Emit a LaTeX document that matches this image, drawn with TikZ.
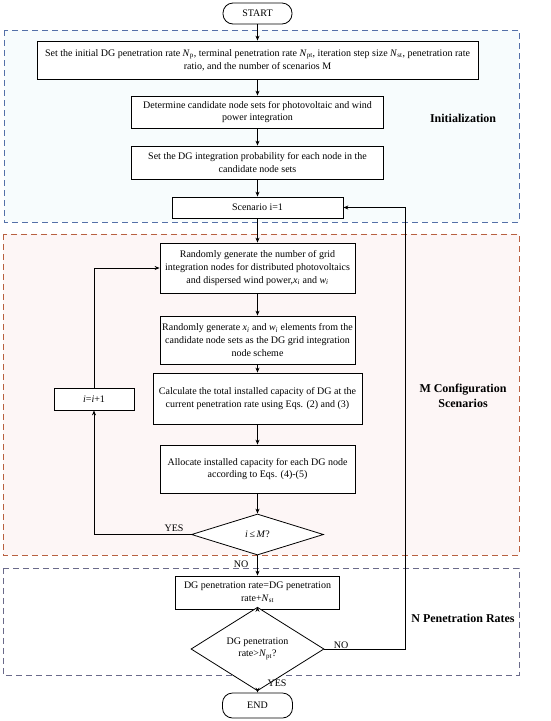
\documentclass[tikz,border=0pt]{standalone}
\usepackage{fontspec}
\setmainfont{Liberation Serif}
\usetikzlibrary{shapes.geometric,arrows.meta}
\definecolor{initblue}{RGB}{84,112,168}
\definecolor{initfill}{RGB}{247,252,253}
\definecolor{scenred}{RGB}{184,96,64}
\definecolor{scenfill}{RGB}{253,246,246}
\definecolor{pengray}{RGB}{106,106,138}
\tikzset{
  proc/.style={draw, line width=0.8pt, fill=white, align=center, inner sep=1pt,
    font=\fontsize{10}{12.7}\selectfont},
  term/.style={draw, line width=0.8pt, fill=white, rounded corners=10pt, inner sep=1pt,
    font=\fontsize{10}{12.7}\selectfont},
  dec/.style={draw, diamond, line width=0.8pt, fill=white, align=center, inner sep=0pt,
    font=\fontsize{10}{12}\selectfont},
  arr/.style={line width=0.8pt, -{Stealth[length=5pt,width=4pt]}},
  lbl/.style={font=\fontsize{10}{12}\selectfont, inner sep=0pt},
  sect/.style={font=\bfseries\fontsize{12}{14.5}\selectfont, align=center, inner sep=0pt},
  region/.style={dash pattern=on 6pt off 4pt, line width=0.8pt}
}
\begin{document}
\begin{tikzpicture}[x=1pt,y=-1pt]
\useasboundingbox (0,0) rectangle (550,721);
% regions
\draw[region, draw=initblue, fill=initfill] (4,30) rectangle (519,222);
\draw[region, draw=scenred, fill=scenfill] (3,234) rectangle (519,555);
\draw[region, draw=pengray] (3,568) rectangle (519,675);
% section labels
\node[sect] (lab1) at (463,118) {Initialization};
\node[sect] (lab2) at (463,396) {M Configuration\\Scenarios};
\node[sect] (lab3) at (463,618) {N Penetration Rates};
% nodes
\node[term, minimum width=69pt, minimum height=21pt] (start) at (257.5,13.5) {START};
\node[proc, minimum width=441pt, minimum height=38pt] (b1) at (257.5,60)
  {Set the initial DG penetration rate \textit{N}\textsubscript{p}, terminal penetration rate \textit{N}\textsubscript{pt}, iteration step size \textit{N}\textsubscript{st}, penetration rate\\ratio, and the number of scenarios M};
\node[proc, minimum width=252pt, minimum height=32pt] (b2) at (257.5,112)
  {Determine candidate node sets for photovoltaic and wind\\power integration};
\node[proc, minimum width=252pt, minimum height=33pt] (b3) at (257.5,162.5)
  {Set the DG integration probability for each node in the\\candidate node sets};
\node[proc, minimum width=171pt, minimum height=21pt] (b4) at (257.5,207.5)
  {Scenario i=1};
\node[proc, minimum width=195pt, minimum height=50pt] (b5) at (257.5,268)
  {Randomly generate the number of grid\\integration nodes for distributed photovoltaics\\and dispersed wind power,\textit{x}\textsubscript{\textit{i}} and \textit{w}\textsubscript{\textit{i}}};
\node[proc, minimum width=195pt, minimum height=48pt] (b6) at (257.5,340)
  {Randomly generate \textit{x}\textsubscript{\textit{i}} and \textit{w}\textsubscript{\textit{i}} elements from the\\candidate node sets as the DG grid integration\\node scheme};
\node[proc, minimum width=209pt, minimum height=51pt] (b7) at (257.5,398.5)
  {Calculate the total installed capacity of DG at the\\current penetration rate using Eqs. (2) and (3)};
\node[proc, minimum width=195pt, minimum height=48pt] (b8) at (257.5,469)
  {Allocate installed capacity for each DG node\\according to Eqs. (4)-(5)};
\node[dec, minimum width=132pt, minimum height=41pt] (d1) at (257.5,534.5)
  {\textit{i}\,≤\,\textit{M}?};
\node[proc, minimum width=80pt, minimum height=22pt] (inc) at (94,399)
  {\textit{i}=\textit{i}+1};
\node[proc, minimum width=164pt, minimum height=33pt] (b9) at (257.5,592.5)
  {DG penetration rate=DG penetration\\rate+\textit{N}\textsubscript{st}};
\node[dec, minimum width=133pt, minimum height=46pt] (d2) at (257.5,649)
  {DG penetration\\rate>\textit{N}\textsubscript{pt}?};
\node[term, minimum width=70pt, minimum height=25pt] (end) at (257.5,705.5) {END};
\coordinate (rx) at (405,649);
% connectors
\draw[arr] (start.south) -- (start.south |- b1.north);
\draw[arr] (b1.south) -- (b1.south |- b2.north);
\draw[arr] (b2.south) -- (b2.south |- b3.north);
\draw[arr] (b3.south) -- (b3.south |- b4.north);
\draw[arr] (b4.south) -- (b4.south |- b5.north);
\draw[arr] (b5.south) -- (b5.south |- b6.north);
\draw[arr] (b6.south) -- (b6.south |- b7.north);
\draw[arr] (b7.south) -- (b7.south |- b8.north);
\draw[arr] (b8.south) -- (b8.south |- d1.north);
\draw[arr] (d1.south) -- (d1.south |- b9.north);
\draw[arr] (b9.south) -- (b9.south |- d2.north);
\draw[arr] (d2.south) -- (d2.south |- end.north);
\draw[arr] (d1.west) -| (inc.south);
\draw[arr] (inc.north) |- (b5.west);
\draw[arr] (d2.east) -- (rx) |- (b4.east);
% branch labels
\node[lbl] (yes1) at (174,528) {YES};
\node[lbl] (no1) at (241,564) {NO};
\node[lbl] (no2) at (341,645) {NO};
\node[lbl] (yes2) at (277,683) {YES};
\end{tikzpicture}
\end{document}
